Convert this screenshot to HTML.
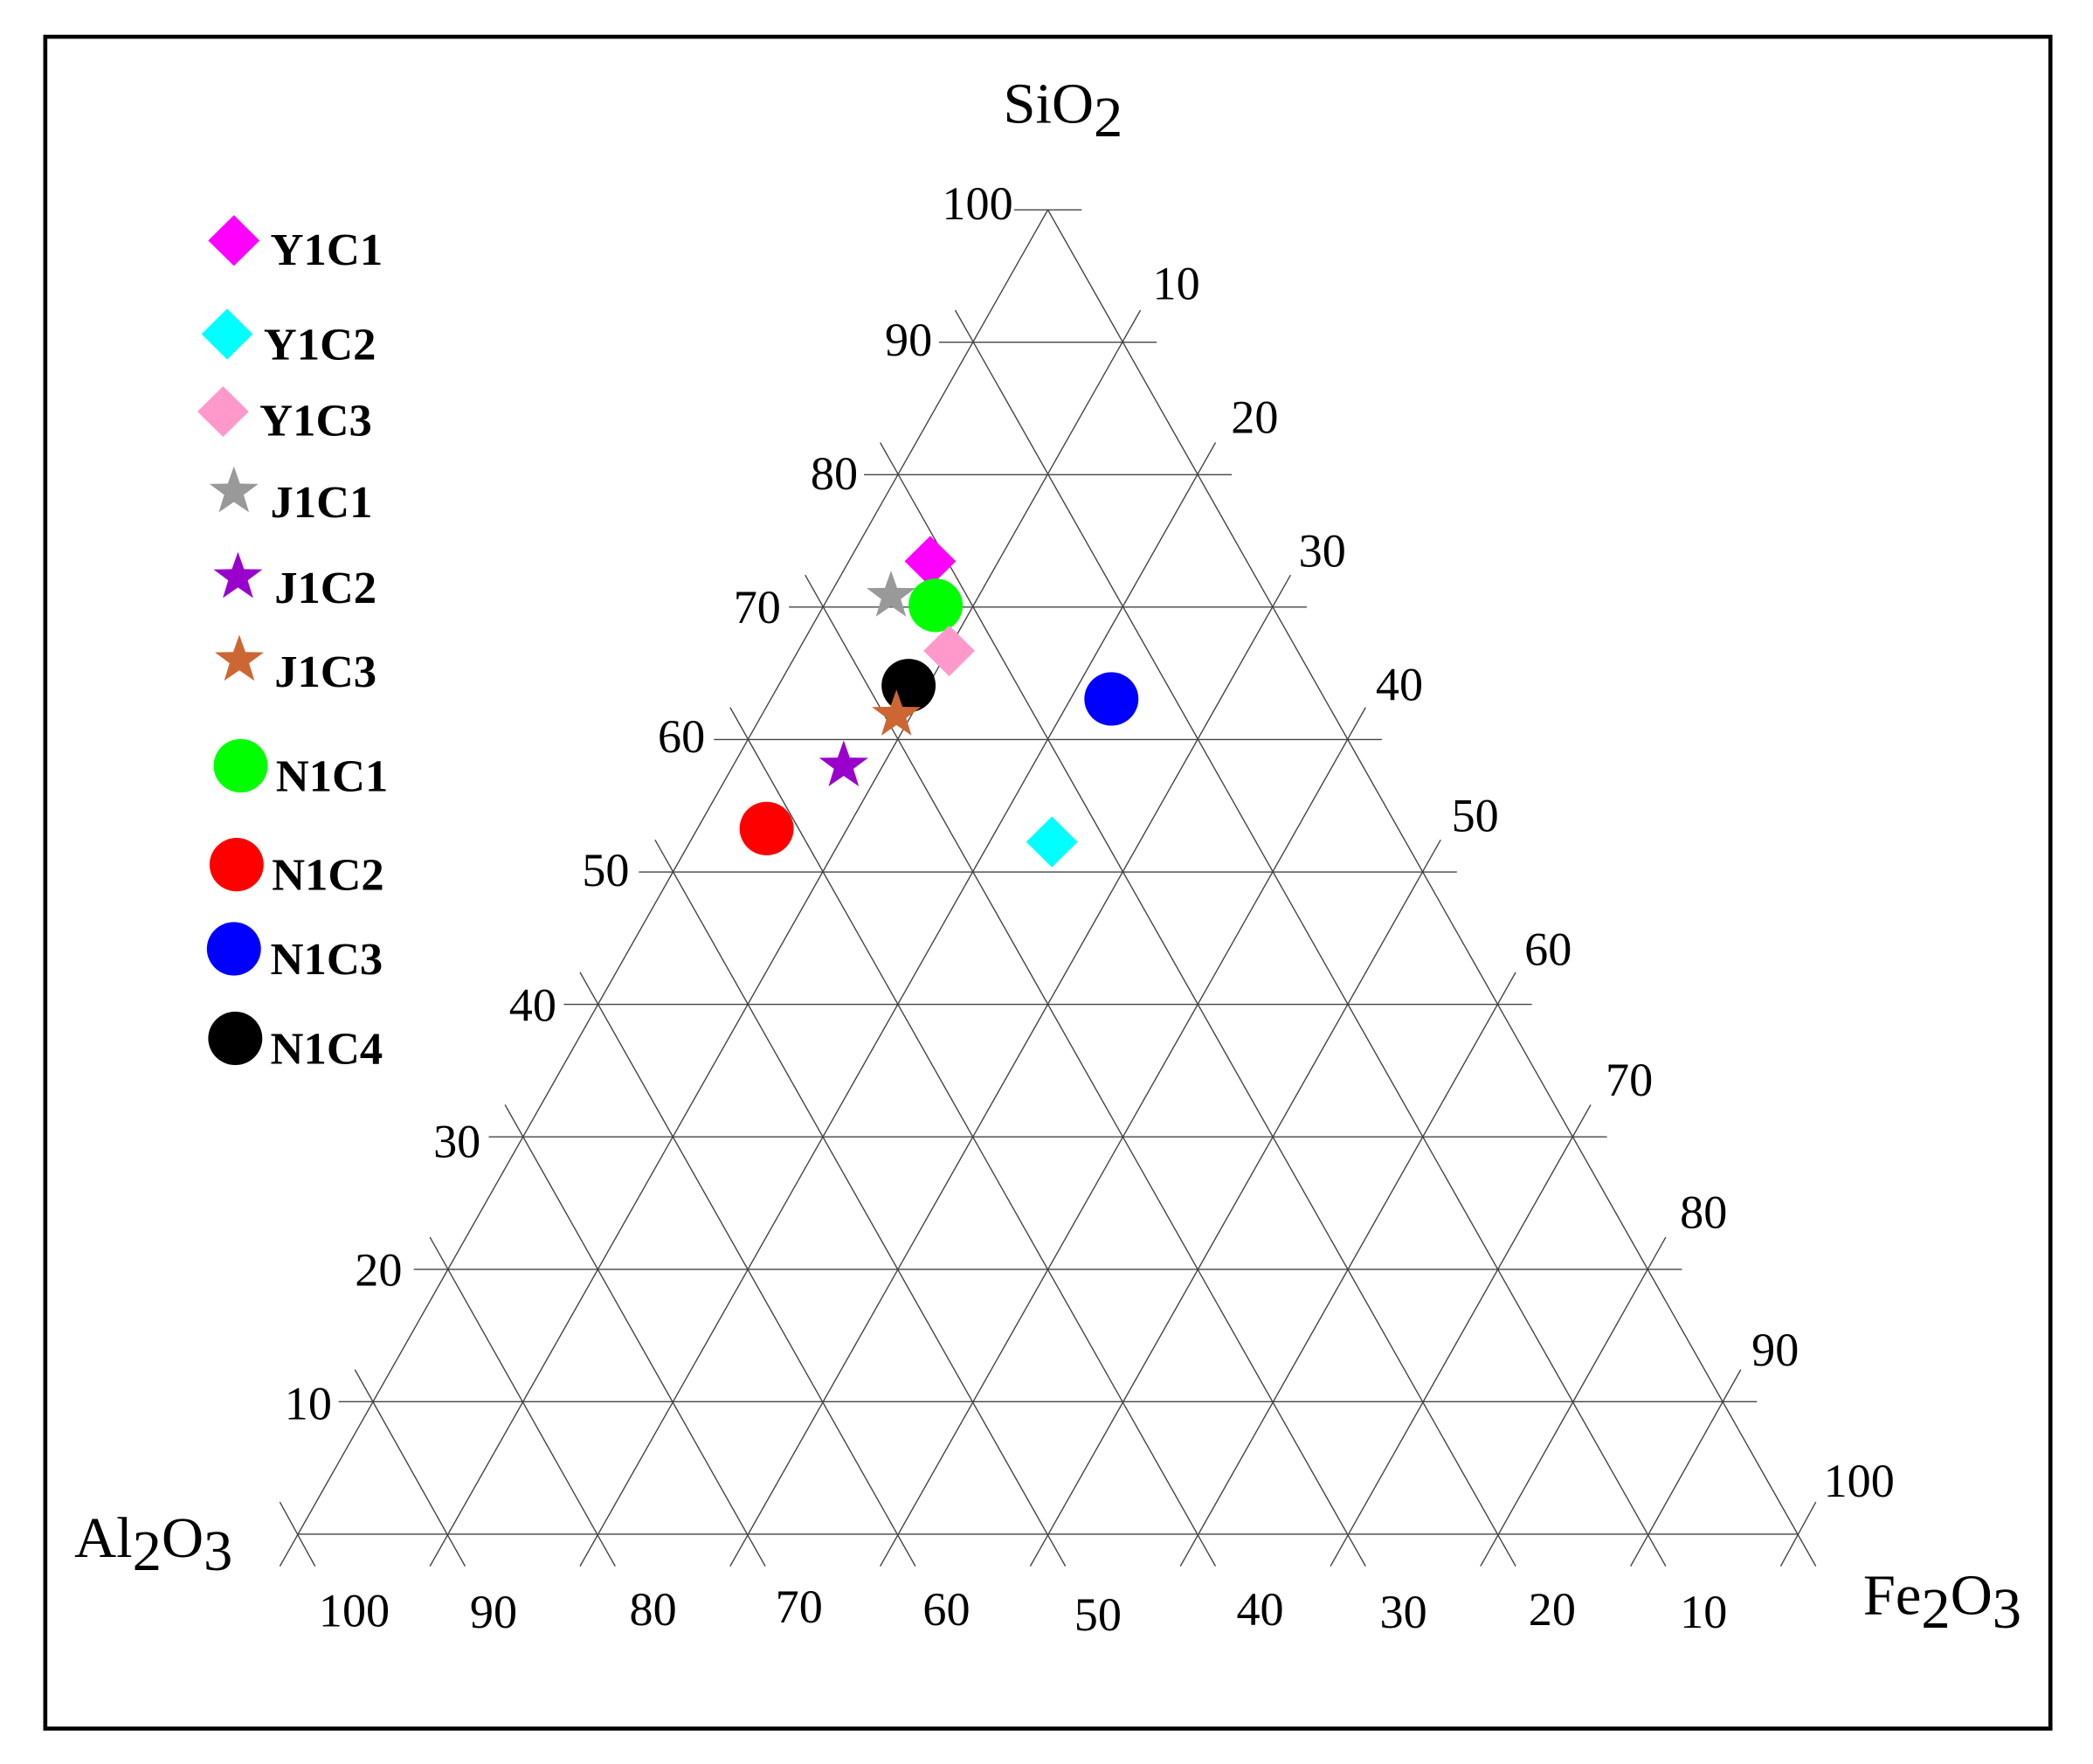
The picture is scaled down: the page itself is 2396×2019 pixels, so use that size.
<!DOCTYPE html>
<html><head><meta charset="utf-8"><style>
html,body{margin:0;padding:0;background:#fff;}
svg{display:block;}
text{font-family:"Liberation Serif",serif;fill:#000;}
.lg{font-weight:bold;font-size:34px;}
.tk{font-size:35px;}
</style></head><body>
<svg id="s" width="2396" height="2019" viewBox="0 0 1548 1320" preserveAspectRatio="none" xmlns="http://www.w3.org/2000/svg">
<rect x="0" y="0" width="1548" height="1320" fill="#fff"/>
<rect x="33.5" y="27.5" width="1483" height="1266" fill="none" stroke="#000" stroke-width="3"/>
<g id="grid" stroke="#444" stroke-width="0.9" fill="none"></g>
<text x="742" y="92" font-size="43">SiO<tspan dy="10">2</tspan></text>
<text x="55" y="1165" font-size="43">Al<tspan dy="10">2</tspan><tspan dy="-10">O</tspan><tspan dy="10">3</tspan></text>
<text x="1378" y="1208" font-size="43">Fe<tspan dy="10">2</tspan><tspan dy="-10">O</tspan><tspan dy="10">3</tspan></text>
<g class="tk" text-anchor="middle">
<text x="723" y="164">100</text><text x="672" y="266">90</text><text x="617" y="366">80</text><text x="560" y="466">70</text><text x="504" y="563">60</text><text x="448" y="663">50</text><text x="394" y="764">40</text><text x="338" y="866">30</text><text x="280" y="962">20</text><text x="228" y="1062">10</text>
<text x="870" y="224">10</text><text x="928" y="324">20</text><text x="978" y="424">30</text><text x="1035" y="524">40</text><text x="1091" y="622">50</text><text x="1145" y="722">60</text><text x="1205" y="820">70</text><text x="1260" y="919">80</text><text x="1313" y="1022">90</text><text x="1375" y="1120">100</text>
<text x="262" y="1217">100</text><text x="365" y="1218">90</text><text x="483" y="1216">80</text><text x="591" y="1214">70</text><text x="700" y="1216">60</text><text x="812" y="1220">50</text><text x="932" y="1216">40</text><text x="1038" y="1218">30</text><text x="1148" y="1216">20</text><text x="1260" y="1218">10</text>
</g>
<g id="pts"></g>
<g class="lg">
<text x="200" y="198">Y1C1</text><text x="195" y="269">Y1C2</text><text x="192" y="326">Y1C3</text><text x="200" y="387">J1C1</text><text x="203" y="451">J1C2</text><text x="203" y="514">J1C3</text><text x="204" y="592">N1C1</text><text x="201" y="666">N1C2</text><text x="200" y="729">N1C3</text><text x="200" y="796">N1C4</text>
</g>
</svg>
<script>
var NS="http://www.w3.org/2000/svg";
var g=document.getElementById('grid');
function L(x1,y1,x2,y2){var l=document.createElementNS(NS,'line');l.setAttribute('x1',x1);l.setAttribute('y1',y1);l.setAttribute('x2',x2);l.setAttribute('y2',y2);g.appendChild(l);}
var ax=775,ay=157,lx=220,rx=1330,by=1148,dx=55.5,dy=99.1,ex=13,ey=24;
for(var k=0;k<=10;k++){
 var y=by-dy*k,Lx=lx+dx*k,Rx=rx-dx*k;
 if(k==0)L(lx,by,rx,by);else if(k==10)L(750,ay,800,ay);else L(Lx-25,y,Rx+25,y);
 var bB=lx+111*k;
 if(k==10)L(Lx,y,bB+ex,by+ey);else L(Lx-ex,y-ey,bB+ex,by+ey);
 var bC=rx-111*k;
 if(k==10)L(Rx,y,bC-ex,by+ey);else L(Rx+ex,y-ey,bC-ex,by+ey);
}
var p=document.getElementById('pts');
function el(t,a){var e=document.createElementNS(NS,t);for(var i in a)e.setAttribute(i,a[i]);p.appendChild(e);}
function dia(x,y,c,r){r=r||19;el('polygon',{points:(x)+','+(y-r)+' '+(x+r)+','+y+' '+x+','+(y+r)+' '+(x-r)+','+y,fill:c});}
function star(x,y,c,R){R=R||19;var r=R*0.4,s='';for(var i=0;i<10;i++){var a=-Math.PI/2+i*Math.PI/5,rr=i%2?r:R;s+=(x+rr*Math.cos(a)).toFixed(1)+','+(y+rr*Math.sin(a)).toFixed(1)+' ';}el('polygon',{points:s,fill:c});}
function cir(x,y,c,r){el('circle',{cx:x,cy:y,r:r||20,fill:c});}
dia(688,420,'#FF00FF');star(659,446,'#999999');cir(692,453,'#00FF00');dia(702,487,'#FF99CC');cir(672,513,'#000');star(663,535,'#CC6633');cir(822,523,'#0000FF');star(624,573,'#9900CC');cir(567,620,'#FF0000');dia(778,630,'#00FFFF');
dia(173,180,'#FF00FF');dia(168,250,'#00FFFF');dia(165,308,'#FF99CC');star(173,368,'#999999');star(176,432,'#9900CC');star(177,494,'#CC6633');cir(178,573,'#00FF00');cir(175,647,'#FF0000');cir(173,710,'#0000FF');cir(174,777,'#000');
</script>
</body></html>
